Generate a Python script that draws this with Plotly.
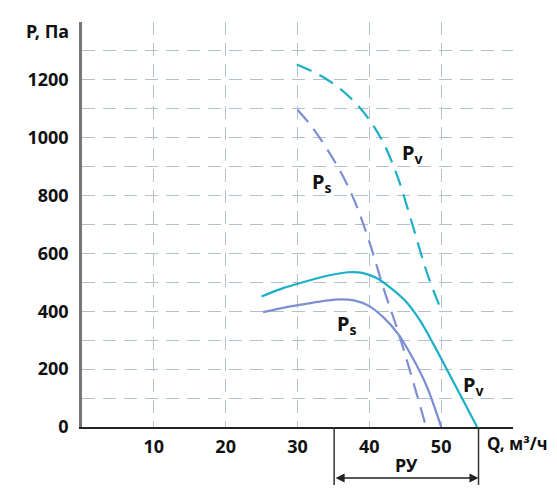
import plotly.graph_objects as go

# Data
q_pv_solid = [25, 28, 31, 34, 37, 39, 41, 43, 45, 47, 49, 51, 53, 55]
p_pv_solid = [451, 480, 502, 522, 535, 533, 515, 480, 436, 370, 283, 189, 95, 0]

q_ps_solid = [25.2, 28, 31, 34, 36, 38, 40, 42, 44, 46, 48, 50]
p_ps_solid = [397, 412, 425, 437, 441, 437, 418, 378, 322, 240, 140, 0]

q_pv_dash = [29.9, 32, 34, 36, 38, 40, 42, 44, 46, 48, 50]
p_pv_dash = [1253, 1230, 1203, 1168, 1122, 1062, 980, 860, 700, 535, 404]

q_ps_dash = [30, 32, 34, 36, 38, 40, 42, 44, 46, 47.9]
p_ps_dash = [1097, 1038, 965, 882, 778, 640, 478, 330, 165, 0]

x_ticks = [10, 20, 30, 40, 50, 60]
x_ticktext = ["10", "20", "30", "40", "50", ""]
y_ticks = [0, 200, 400, 600, 800, 1000, 1200]

ru_range = [35.1, 55.2]

PV = "#1bb0c8"
PS = "#7c8fd2"
GRID = "#b4c0ca"
FONT = "Noto Sans"

fig = go.Figure()
fig.add_trace(go.Scatter(x=q_pv_dash, y=p_pv_dash, mode="lines", line=dict(color=PV, width=2.2, dash="16px,9px", shape="spline")))
fig.add_trace(go.Scatter(x=q_ps_dash, y=p_ps_dash, mode="lines", line=dict(color=PS, width=2.2, dash="16px,9px", shape="spline")))
fig.add_trace(go.Scatter(x=q_pv_solid, y=p_pv_solid, mode="lines", line=dict(color=PV, width=2.2, shape="spline")))
fig.add_trace(go.Scatter(x=q_ps_solid, y=p_ps_solid, mode="lines", line=dict(color=PS, width=2.2, shape="spline")))

lab_font = dict(family=FONT, size=20, color="#111")
labels = [
    (45.9, 945, "P<sub>v</sub>"),
    (33.3, 844, "P<sub>s</sub>"),
    (36.8, 353, "P<sub>s</sub>"),
    (54.5, 145, "P<sub>v</sub>"),
]
for x, y, t in labels:
    fig.add_annotation(x=x, y=y, text="<b>" + t + "</b>", showarrow=False, font=lab_font)

# axis titles
fig.add_annotation(xref="paper", yref="paper", x=-0.025, y=0.978, xanchor="right", yanchor="middle",
                   text="<b>P, Па</b>", showarrow=False, font=dict(family=FONT, size=18, color="#111"))
fig.add_annotation(xref="paper", yref="paper", x=0.936, y=-0.04, xanchor="left", yanchor="middle",
                   text="<b>Q, м³/ч</b>", showarrow=False, font=dict(family=FONT, size=17, color="#111"))

# РУ range marker
for xv in ru_range:
    fig.add_shape(type="line", xref="x", yref="paper", x0=xv, x1=xv, y0=0, y1=-0.143,
                  line=dict(color="#333", width=1.5))
fig.add_annotation(xref="x", yref="paper", axref="x", ayref="pixel",
                   x=ru_range[1], y=-0.126, ax=ru_range[0], ay=0,
                   showarrow=True, arrowhead=2, arrowside="end+start", arrowsize=1.2,
                   arrowwidth=1.5, arrowcolor="#222", text="")
fig.add_annotation(xref="x", yref="paper", x=(ru_range[0] + ru_range[1]) / 2, y=-0.094,
                   xanchor="center", yanchor="middle",
                   text="<b>РУ</b>", showarrow=False, font=dict(family=FONT, size=18, color="#111"))

fig.update_layout(
    width=549, height=489,
    margin=dict(l=74, r=44, t=14, b=70),
    paper_bgcolor="white", plot_bgcolor="white",
    showlegend=False,
    font=dict(family=FONT, size=18, color="#111"),
    xaxis=dict(range=[0, 60], tickvals=x_ticks, ticktext=["<b>%s</b>" % t if t else "" for t in x_ticktext],
               showgrid=True, gridcolor=GRID, griddash="13px,8px", gridwidth=1.4,
               showline=True, linecolor="#222", linewidth=1.5, zeroline=False,
               ticks="", ticklabelstandoff=3, fixedrange=True),
    yaxis=dict(range=[0, 1400], tickvals=y_ticks, ticktext=["<b>%d</b>" % v for v in y_ticks],
               showgrid=True, gridcolor=GRID, griddash="13px,8px", gridwidth=1.4,
               minor=dict(dtick=100, tick0=0, showgrid=True, gridcolor=GRID, griddash="13px,8px", gridwidth=1.4),
               showline=True, linecolor="#777", linewidth=2.5, zeroline=False,
               ticks="", ticklabelstandoff=7, fixedrange=True),
)

fig.write_html("out.html")
